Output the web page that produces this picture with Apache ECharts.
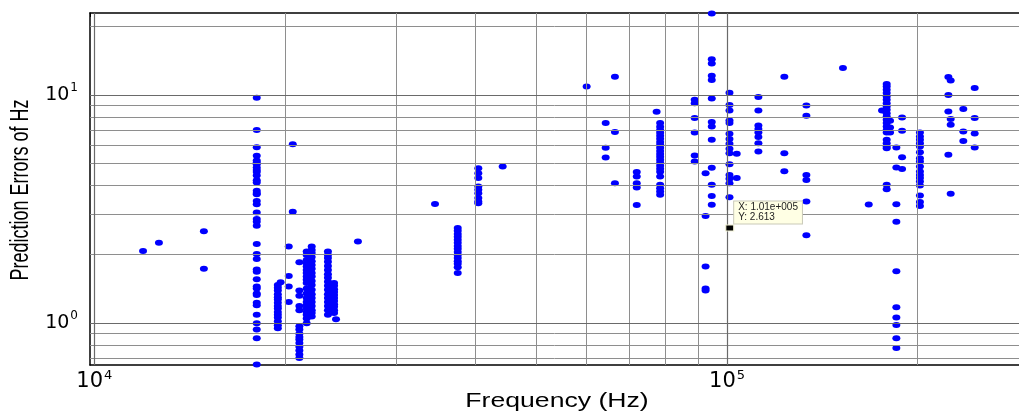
<!DOCTYPE html>
<html>
<head>
<meta charset="utf-8">
<script src="https://cdn.jsdelivr.net/npm/echarts@6/dist/echarts.min.js"></script>
<style>
html, body { margin: 0; padding: 0; background: #fff; }
#chart { width: 1019px; height: 412px; }
</style>
</head>
<body>
<div id="chart"></div>
<script>
// Measurement frequencies (Hz); each entry is one column of points
const freqHz = [
  11940, 12650, 14900, 18060, 19500, 19700, 20290, 20590, 21090, 21660,
  22060, 23400, 23930, 24100, 26100, 34550, 37530, 40450, 44200, 60000,
  64300, 66500, 72000, 77400, 78400, 88900, 92500, 94600, 100900, 103600,
  112100, 123200, 133500, 152500, 167500, 175800, 178800, 181000, 185200, 189100,
  201800, 223800, 225700, 236300, 246300
];

// Prediction errors (Hz) at the frequency with the same index
const errorHz = [
  [2.07],
  [2.25],
  [2.53, 1.73],
  [9.70, 7.02, 5.90, 5.41, 5.16, 5.05, 4.97, 4.80, 4.68, 4.59, 4.43, 4.23, 4.13, 3.80, 3.72, 3.67,
   3.43, 3.32, 3.05, 2.86, 2.78, 2.67, 2.22, 2.01, 1.91, 1.72, 1.68, 1.56, 1.45, 1.42, 1.35, 1.33,
   1.23, 1.20, 1.09, 1.00, 0.94, 0.86, 0.66],
  [1.47, 1.43, 1.39, 1.34, 1.30, 1.27, 1.23, 1.19, 1.16, 1.12, 1.09, 1.06, 1.02, 0.98, 0.95],
  [1.51],
  [2.17, 1.61, 1.45, 1.24],
  [6.08, 3.08],
  [1.85, 1.39, 1.32, 1.19, 1.14, 0.97, 0.94, 0.90, 0.87, 0.85, 0.82, 0.79, 0.76, 0.73, 0.705],
  [2.06, 1.99, 1.89, 1.83, 1.77, 1.71, 1.66, 1.60, 1.55, 1.50, 1.42, 1.35, 1.29, 1.24, 1.20, 1.16,
   1.12, 1.09, 1.05, 1.00],
  [2.17, 2.09, 2.03, 1.95, 1.87, 1.80, 1.73, 1.66, 1.60, 1.53, 1.47, 1.40, 1.34, 1.29, 1.24, 1.19,
   1.14, 1.11, 1.07],
  [2.06, 1.99, 1.93, 1.86, 1.78, 1.71, 1.64, 1.58, 1.52, 1.46, 1.40, 1.34, 1.29, 1.24, 1.19, 1.14, 1.09],
  [1.50, 1.46, 1.41, 1.37, 1.33, 1.29, 1.25, 1.21, 1.18, 1.14, 1.11],
  [1.04],
  [2.28],
  [3.33],
  [2.61, 2.54, 2.46, 2.39, 2.32, 2.25, 2.18, 2.12, 2.05, 1.99, 1.93, 1.87, 1.82, 1.76, 1.66],
  [4.77, 4.54, 4.32, 3.97, 3.84, 3.71, 3.53, 3.41, 3.35],
  [4.85],
  [10.87],
  [7.52, 5.86, 5.31],
  [12.0, 6.87, 4.10],
  [4.59, 4.39, 4.10, 3.93, 3.29],
  [8.42],
  [7.52, 7.24, 7.02, 6.82, 6.61, 6.42, 6.22, 6.04, 5.86, 5.68, 5.51, 5.35, 5.19, 5.04, 4.89, 4.74,
   4.60, 4.39, 4.04, 3.90, 3.77, 3.65],
  [9.51, 9.19, 7.91, 6.84, 5.42, 5.10],
  [4.54, 2.95, 1.77, 1.42, 1.39],
  [22.7, 14.3, 13.7, 12.1, 11.6, 9.63, 7.61, 7.26, 6.35, 4.79, 4.04, 3.61, 3.30],
  [10.2, 9.01, 8.54, 7.72, 7.52, 6.75, 6.40, 6.10, 5.80, 5.55, 4.97, 4.46, 4.29, 4.10, 3.56],
  [5.52, 4.32],
  [9.77, 8.54, 7.34, 7.08, 6.84, 6.53, 6.14, 5.64],
  [12.0, 5.55, 4.63],
  [8.98, 8.09, 4.46, 4.24, 3.41, 2.43],
  [13.1],
  [3.31],
  [8.54],
  [11.14, 10.87, 10.52, 10.17, 9.83, 9.51, 9.19, 8.89, 8.60, 8.31, 8.04, 7.77, 7.52, 7.26, 7.02,
   6.84, 6.35, 6.14, 5.94, 5.84, 4.04, 3.86],
  [7.69, 7.19, 6.84],
  [5.88, 4.80, 3.32, 2.78, 1.69, 1.175, 1.06, 0.983, 0.86, 0.78],
  [7.95, 6.96, 5.33, 4.73],
  [6.84, 6.57, 6.35, 6.14, 5.94, 5.61, 5.28, 5.10, 4.85, 4.61, 4.46, 4.32, 4.17, 4.01, 3.62, 3.39, 3.26],
  [11.96, 9.97, 8.45, 5.46],
  [11.55, 7.83, 7.39, 3.69],
  [8.66, 6.91, 6.27],
  [10.7, 7.91, 6.77, 5.88]
];

// Data cursor placed on one sample
const cursorPoint = [1.01e5, 2.613];

// Axis extents
const xRange = [9844, 2.894e5];
const yRange = [0.6566, 22.8];

// Log grid lines
const xDecades = [1e4, 1e5];
const xMinorGrid = [2e4, 3e4, 4e4, 5e4, 6e4, 7e4, 8e4, 9e4, 2e5];
const yDecades = [1, 10];
const yMinorGrid = [0.7, 0.8, 0.9, 2, 3, 4, 5, 6, 7, 8, 9, 20];

const points = [];
freqHz.forEach((f, i) => errorHz[i].forEach(e => points.push([f, e])));

const majorGridStyle = { color: '#6a6a6a', width: 1.2, type: 'solid' };
const minorGridStyle = { color: '#8e8e8e', width: 1, type: 'solid' };
const gridLines = [].concat(
  xMinorGrid.map(v => ({ xAxis: v, lineStyle: minorGridStyle })),
  yMinorGrid.map(v => ({ yAxis: v, lineStyle: minorGridStyle })),
  xDecades.map(v => ({ xAxis: v, lineStyle: majorGridStyle })),
  yDecades.map(v => ({ yAxis: v, lineStyle: majorGridStyle }))
);

// "10" with the exponent raised, only at exact powers of ten
function powerLabel(v) {
  const e = Math.log10(v);
  const n = Math.round(e);
  if (Math.abs(e - n) > 1e-6) return '';
  return '{b|10}{s|' + n + '}';
}

// MATLAB-style number formats for the cursor readout
function sciText(v) {
  const n = Math.floor(Math.log10(v));
  const m = (v / Math.pow(10, n)).toFixed(2);
  const sign = n < 0 ? '-' : '+';
  return m + 'e' + sign + String(Math.abs(n)).padStart(3, '0');
}

const labelRich = (big, small, lift) => ({
  b: { fontSize: big, fontFamily: 'DejaVu Sans', color: '#000' },
  s: { fontSize: small, fontFamily: 'DejaVu Sans', color: '#000', padding: [0, 0, lift, 1] }
});

const chart = echarts.init(document.getElementById('chart'), null, { renderer: 'canvas' });

chart.setOption({
  backgroundColor: '#ffffff',
  animation: false,
  grid: { left: 90, top: 13, right: 0, bottom: 47, containLabel: false },
  xAxis: [
    {
      type: 'log', logBase: 10, min: xRange[0], max: xRange[1], position: 'bottom',
      axisLine: { show: true, onZero: false, lineStyle: { color: '#000', width: 1.5 } },
      axisTick: { show: true, inside: true, length: 4, lineStyle: { color: '#000' } },
      axisLabel: {
        margin: 4, color: '#000', showMinLabel: false, showMaxLabel: false,
        formatter: powerLabel, rich: labelRich(21, 13, 12)
      },
      splitLine: { show: false }
    },
    {
      type: 'log', logBase: 10, min: xRange[0], max: xRange[1], position: 'top',
      axisLine: { show: true, onZero: false, lineStyle: { color: '#000', width: 1.5 } },
      axisTick: { show: true, inside: true, length: 4, lineStyle: { color: '#000' } },
      axisLabel: { show: false },
      splitLine: { show: false }
    }
  ],
  yAxis: {
    type: 'log', logBase: 10, min: yRange[0], max: yRange[1],
    axisLine: { show: true, onZero: false, lineStyle: { color: '#000', width: 1.5 } },
    axisTick: { show: true, inside: true, length: 4, lineStyle: { color: '#000' } },
    axisLabel: {
      margin: 12, color: '#000', showMinLabel: false, showMaxLabel: false,
      formatter: powerLabel, rich: labelRich(19, 12, 14)
    },
    splitLine: { show: false }
  },
  graphic: [
    {
      type: 'text', x: 557, y: 401, scaleX: 1.33, silent: true,
      style: {
        text: 'Frequency (Hz)', fontSize: 20, fontFamily: 'Liberation Sans',
        fill: '#000', align: 'center', verticalAlign: 'middle'
      }
    },
    {
      type: 'text', x: 21, y: 190, rotation: Math.PI / 2, scaleY: 1.45, silent: true,
      style: {
        text: 'Prediction Errors of Hz', fontSize: 18, fontFamily: 'Liberation Sans',
        fill: '#000', align: 'center', verticalAlign: 'middle'
      }
    }
  ],
  series: [
    {
      // log grid
      type: 'scatter', data: [], silent: true, z: 1,
      markLine: {
        silent: true, symbol: ['none', 'none'], label: { show: false },
        animation: false, data: gridLines
      }
    },
    {
      type: 'scatter', data: points, z: 3,
      symbol: 'circle', symbolSize: [8, 6],
      itemStyle: { color: '#0000ff', opacity: 1 }
    },
    {
      type: 'scatter', data: [cursorPoint], z: 5,
      symbol: 'rect', symbolSize: [8, 6],
      itemStyle: { color: '#000', opacity: 1, borderColor: '#f4f4d8', borderWidth: 1 },
      label: {
        show: true, position: [9, -23], align: 'left', verticalAlign: 'top',
        formatter: p => 'X: ' + sciText(p.value[0]) + '\nY: ' + p.value[1].toFixed(3),
        fontSize: 10, lineHeight: 10, fontFamily: 'Liberation Sans', color: '#222',
        backgroundColor: '#ffffe4', borderColor: '#c9c9b8', borderWidth: 1,
        padding: [1, 4]
      }
    }
  ]
});
</script>
</body>
</html>
